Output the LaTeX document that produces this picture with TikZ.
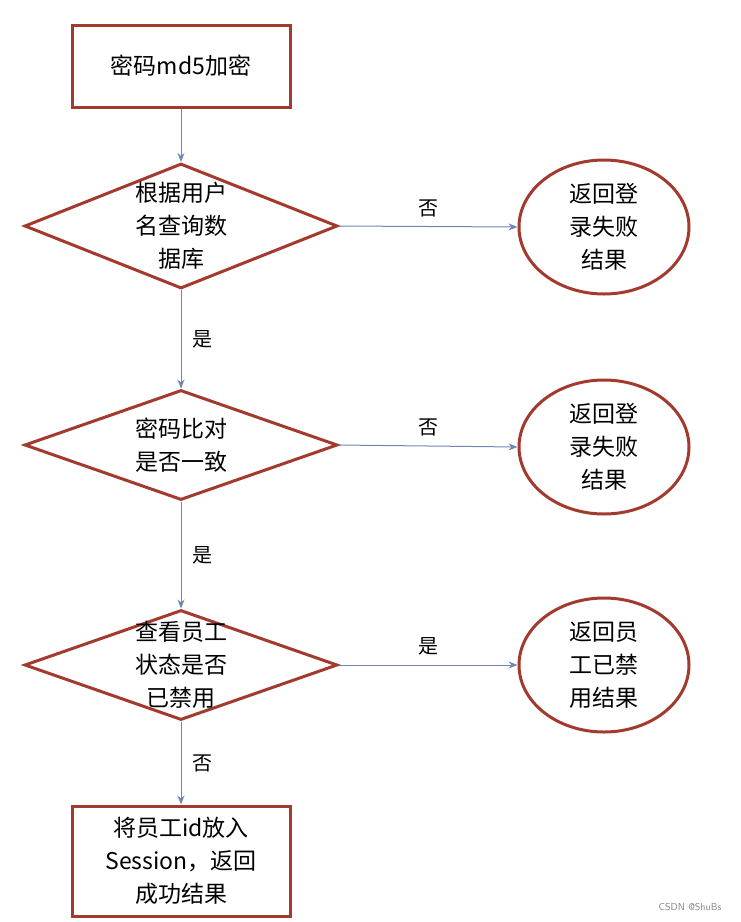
\documentclass[tikz,border=0pt]{standalone}
\usepackage{fontspec}
\newfontfamily\cjk{Noto Sans CJK SC}
\usetikzlibrary{shapes.geometric,arrows.meta}
\definecolor{bred}{HTML}{A33A2E}
\definecolor{arr}{HTML}{6F86B5}
\tikzset{
  x=1pt,y=-1pt,
  every node/.style={font=\cjk\fontsize{23}{33}\selectfont,align=center},
  boxn/.style={draw=bred,line width=3pt,inner sep=0},
  dia/.style={draw=bred,line width=3pt,diamond,inner sep=0,minimum width=313pt,minimum height=125pt},
  ell/.style={draw=bred,line width=3pt,ellipse,inner sep=0,minimum width=170pt,minimum height=134pt},
  conn/.style={draw=arr,line width=1pt,-{Stealth[length=9pt,width=7pt]}},
  lbl/.style={font=\cjk\fontsize{20}{24}\selectfont}
}
\begin{document}
\begin{tikzpicture}
\useasboundingbox (0,0) rectangle (741,922);
\node[boxn,minimum width=218pt,minimum height=82pt] (b1) at (181,66) {};
\node at (b1) {密码md5加密};
\node[dia] (d1) at (181,226) {};
\node at (d1) {根据用户\\名查询数\\据库};
\node[ell] (e1) at (604,227) {};
\node at (e1) {返回登\\录失败\\结果};
\node[dia,minimum height=110pt] (d2) at (181,445) {};
\node at (d2) {密码比对\\是否一致};
\node[ell] (e2) at (604,447) {};
\node at (e2) {返回登\\录失败\\结果};
\node[dia,minimum height=110pt] (d3) at (181,665) {};
\node at (d3) {查看员工\\状态是否\\已禁用};
\node[ell] (e3) at (604,665) {};
\node at (e3) {返回员\\工已禁\\用结果};
\node[boxn,minimum width=218pt,minimum height=110pt] (b2) at (181,861) {};
\node at (b2) {将员工id放入\\Session，返回\\成功结果};
\draw[conn] (b1) -- (d1);
\draw[conn] (d1) -- node[lbl,right=8pt]{是} (d2);
\draw[conn] (d2) -- node[lbl,right=8pt]{是} (d3);
\draw[conn] (d3) -- node[lbl,right=8pt]{否} (b2);
\draw[conn] (d1.east) -- node[lbl,above=6pt]{否} (e1.west);
\draw[conn] (d2.east) -- node[lbl,above=6pt]{否} (e2.west);
\draw[conn] (d3.east) -- node[lbl,above=6pt]{是} (e3.west);
\node[font=\sffamily\fontsize{10}{12}\selectfont,text=gray] (wm) at (690,907) {CSDN @ShuBs};
\end{tikzpicture}
\end{document}
